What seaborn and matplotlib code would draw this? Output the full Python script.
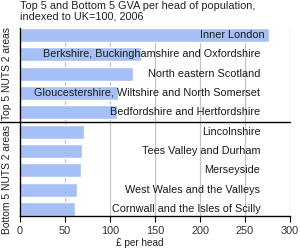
import matplotlib
matplotlib.use("Agg")
import matplotlib.pyplot as plt
import seaborn as sns
import pandas as pd

regions = ["Inner London",
           "Berkshire, Buckinghamshire and Oxfordshire",
           "North eastern Scotland",
           "Gloucestershire, Wiltshire and North Somerset",
           "Bedfordshire and Hertfordshire",
           "Lincolnshire",
           "Tees Valley and Durham",
           "Merseyside",
           "West Wales and the Valleys",
           "Cornwall and the Isles of Scilly"]
values = [277, 134, 126, 109, 108, 71, 69, 68, 63, 61]
group_labels = ["Top 5 NUTS 2 areas", "Bottom 5 NUTS 2 areas"]
xticks = [0, 50, 100, 150, 200, 250, 300]
title = "Top 5 and Bottom 5 GVA per head of population,\nindexed to UK=100, 2006"
xlabel = "£ per head"

sns.set_theme(style="white")
plt.rcParams['font.family'] = ['Liberation Sans', 'DejaVu Sans']
FS = 7.5

df = pd.DataFrame({"region": regions, "value": values})

fig = plt.figure(figsize=(3, 2.5), dpi=100)
ax = fig.add_axes([20/300, 1-216/250, 270/300, 188/250])

ax.set_axisbelow(True)
for t in xticks[1:]:
    ax.axvline(t, color="#c4c4c4", lw=0.9, zorder=0)

sns.barplot(data=df, x="value", y="region", orient="h", color="#a6c0f5",
            saturation=1, width=0.724, ax=ax, zorder=2)

ax.set_xlim(0, 300)
ax.set_ylim(9.362, -0.362)
ax.set_xticks(xticks)
ax.set_xticklabels([str(t) for t in xticks], fontsize=FS + 0.3, color="#333333")
ax.set_yticks([])
ax.set_ylabel("")
ax.set_xlabel(xlabel, fontsize=FS - 0.3, color="#222222", va="top")
ax.xaxis.set_label_coords(0.444, -0.118)
ax.tick_params(axis="x", length=4, width=0.8, color="black", pad=3.5, bottom=True)

for s in ["top", "right"]:
    ax.spines[s].set_visible(False)
for s in ["left", "bottom"]:
    ax.spines[s].set_color("black")
    ax.spines[s].set_linewidth(1)

for i, (r, v) in enumerate(zip(regions, values)):
    ax.text(max(v - 5, 267), i, r, ha="right", va="center", fontsize=FS + 0.3,
            color="#1a1a1a", zorder=3)

ax.axhline(4.5, xmin=-20/270, xmax=1, color="black", lw=1, clip_on=False, zorder=4)

ax.text(-13/270, 0.76, group_labels[0], transform=ax.transAxes, rotation=90,
        ha="center", va="center", fontsize=FS - 0.1, color="#222222")
ax.text(-13/270, 0.195, group_labels[1], transform=ax.transAxes, rotation=90,
        ha="center", va="center", fontsize=FS - 0.1, color="#222222")

fig.text(20/300, 1 - 1/250, title, ha="left", va="top", fontsize=FS + 0.3,
         color="#222222", linespacing=1.05)

fig.savefig("out.png", dpi=100, facecolor="white")
